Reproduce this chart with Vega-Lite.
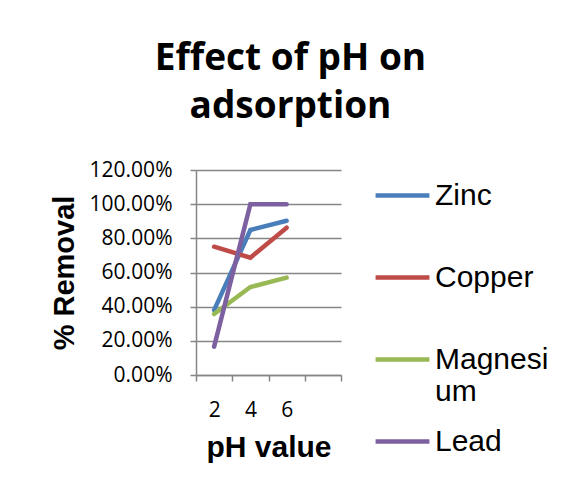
{
  "$schema": "https://vega.github.io/schema/vega-lite/v6.json",
  "width": 145,
  "height": 205,
  "autosize": {"type": "none"},
  "padding": {"left": 196, "top": 170, "right": 220, "bottom": 113},
  "background": "white",
  "title": {
    "text": ["Effect of pH on", "adsorption"],
    "font": "Open Sans",
    "fontSize": 37,
    "fontWeight": "bold",
    "lineHeight": 48,
    "color": "black",
    "anchor": "middle",
    "frame": "group",
    "dx": 22,
    "offset": 33
  },
  "data": {
    "values": [
      {"pH": "2", "metal": "Zinc", "removal": 0.38},
      {"pH": "4", "metal": "Zinc", "removal": 0.849},
      {"pH": "6", "metal": "Zinc", "removal": 0.903},
      {"pH": "2", "metal": "Copper", "removal": 0.751},
      {"pH": "4", "metal": "Copper", "removal": 0.687},
      {"pH": "6", "metal": "Copper", "removal": 0.862},
      {"pH": "2", "metal": "Magnesium", "removal": 0.357},
      {"pH": "4", "metal": "Magnesium", "removal": 0.515},
      {"pH": "6", "metal": "Magnesium", "removal": 0.57},
      {"pH": "2", "metal": "Lead", "removal": 0.166},
      {"pH": "4", "metal": "Lead", "removal": 1.0},
      {"pH": "6", "metal": "Lead", "removal": 1.0}
    ]
  },
  "mark": {"type": "line", "strokeWidth": 4.5, "strokeCap": "round", "strokeJoin": "miter"},
  "encoding": {
    "x": {
      "field": "pH",
      "type": "ordinal",
      "scale": {"type": "band", "domain": ["2", "4", "6", "_"], "paddingInner": 0, "paddingOuter": 0},
      "axis": {
        "title": "pH value",
        "labelAngle": 0,
        "labelExpr": "datum.value == '_' ? '' : datum.label",
        "tickBand": "extent",
        "grid": false,
        "domainColor": "#868686",
        "domainWidth": 1.5,
        "tickColor": "#868686",
        "tickWidth": 1.5,
        "tickSize": 6,
        "labelFont": "Open Sans",
        "labelFontSize": 21,
        "labelColor": "black",
        "labelPadding": 18,
        "titleFont": "Liberation Sans",
        "titleFontSize": 30,
        "titleFontWeight": "bold",
        "titleColor": "black",
        "titlePadding": 12
      }
    },
    "y": {
      "field": "removal",
      "type": "quantitative",
      "scale": {"domain": [0, 1.2], "nice": false},
      "axis": {
        "title": "% Removal",
        "values": [0, 0.2, 0.4, 0.6, 0.8, 1.0, 1.2],
        "format": ".2%",
        "grid": true,
        "gridColor": "#868686",
        "gridWidth": 1.5,
        "domainColor": "#868686",
        "domainWidth": 1.5,
        "tickColor": "#868686",
        "tickWidth": 1.5,
        "tickSize": 6,
        "labelFont": "Open Sans",
        "labelFontSize": 21,
        "labelColor": "black",
        "labelPadding": 18,
        "titleFont": "Liberation Sans",
        "titleFontSize": 29,
        "titleFontWeight": "bold",
        "titleColor": "black",
        "titlePadding": 10
      }
    },
    "color": {
      "field": "metal",
      "type": "nominal",
      "scale": {
        "domain": ["Zinc", "Copper", "Magnesium", "Lead"],
        "range": ["#4A7EBB", "#BE4B48", "#98B954", "#7D60A0"]
      },
      "legend": {
        "title": null,
        "orient": "none",
        "legendX": 177,
        "legendY": -4,
        "padding": 0,
        "symbolType": "stroke",
        "symbolSize": 2900,
        "symbolStrokeWidth": 4.5,
        "labelFont": "Liberation Sans",
        "labelFontSize": 30,
        "labelColor": "black",
        "labelOffset": 3,
        "labelLimit": 200,
        "rowPadding": 5,
        "labelExpr": "datum.label == 'Magnesium' ? ['Magnesi', 'um'] : [datum.label, '']"
      }
    }
  },
  "config": {"view": {"stroke": null}}
}
